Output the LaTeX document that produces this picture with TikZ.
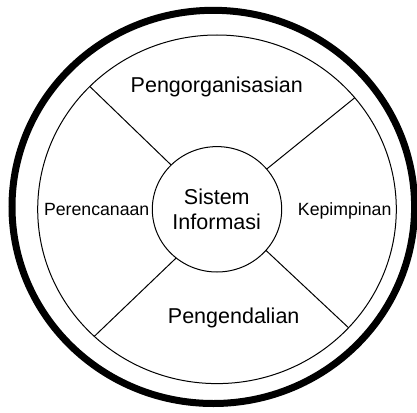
\documentclass[tikz,border=0pt]{standalone}
\usepackage{fontspec}
\setmainfont{Liberation Sans}
\usetikzlibrary{shapes.geometric}
\begin{document}
\begin{tikzpicture}[x=1pt,y=-1pt,
  ring/.style={draw=black,ellipse,inner sep=0pt,outer sep=0pt},
  big/.style={anchor=base,inner sep=0pt,font=\fontsize{21.5}{25}\selectfont},
  small/.style={anchor=base,inner sep=0pt,font=\fontsize{17.7}{21}\selectfont},
  spoke/.style={draw=black,line width=1pt}]
\useasboundingbox[fill=white] (0,0) rectangle (417,412);
\node[ring,line width=7pt,minimum width=402.6pt,minimum height=393.2pt] (outer) at (213.3,206.9) {};
\node[ring,line width=1pt,minimum width=358.6pt,minimum height=348.6pt] (inner) at (217,209.3) {};
\node[ring,line width=1pt,minimum width=129.4pt,minimum height=125.4pt] (core) at (217,209.3) {};
\draw[spoke] (core.136) -- (inner.136);
\draw[spoke] (core.39.8) -- (inner.39.7);
\draw[spoke] (core.230.5) -- (inner.226.2);
\draw[spoke] (core.-40.5) -- (inner.-42.7);
\node[big] (sis) at (216.8,204.3) {Sistem};
\node[big] (inf) at (216.7,229) {Informasi};
\node[big] (org) at (216.8,92.3) {Pengorganisasian};
\node[big] (ctl) at (233.7,323.3) {Pengendalian};
\node[small] (ren) at (96.7,215) {Perencanaan};
\node[small] (kep) at (344.7,215) {Kepimpinan};
\end{tikzpicture}
\end{document}
